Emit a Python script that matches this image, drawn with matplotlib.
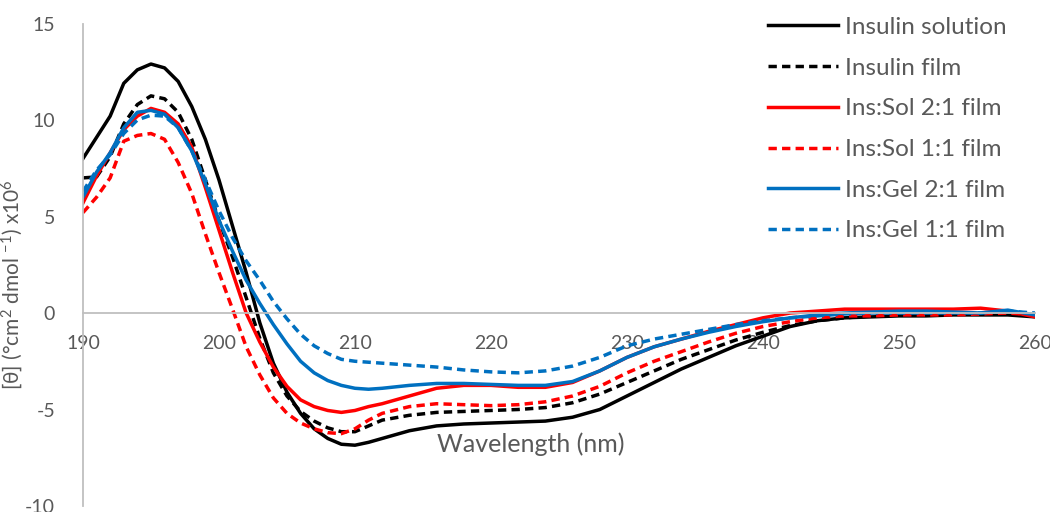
import matplotlib
matplotlib.use("Agg")
import matplotlib.pyplot as plt

plt.rcParams['font.family'] = ['Lato', 'DejaVu Sans']
plt.rcParams['mathtext.default'] = 'regular'
plt.rcParams['axes.unicode_minus'] = False

wavelength = list(range(190, 213)) + list(range(214, 261, 2))

insulinSolution = [8.0, 9.1, 10.2, 11.9, 12.6, 12.9, 12.7, 12.0, 10.7, 9.0, 6.9, 4.5, 2.1, -0.5, -2.6,
                   -4.1, -5.2, -6.0, -6.5, -6.8, -6.85, -6.7, -6.5,
                   -6.1, -5.85, -5.75, -5.7, -5.65, -5.6, -5.4, -5.0, -4.3, -3.6, -2.9, -2.3, -1.7, -1.2,
                   -0.7, -0.4, -0.25, -0.2, -0.15, -0.15, -0.1, -0.1, -0.1, -0.2]
insulinFilm = [7.0, 7.05, 8.1, 9.8, 10.8, 11.25, 11.1, 10.4, 9.0, 6.9, 4.8, 2.9, 0.8, -1.3, -3.1,
               -4.3, -5.1, -5.6, -5.95, -6.15, -6.15, -5.85, -5.55,
               -5.3, -5.15, -5.1, -5.05, -5.0, -4.9, -4.65, -4.2, -3.6, -3.0, -2.4, -1.9, -1.4, -1.0,
               -0.65, -0.4, -0.25, -0.15, -0.1, -0.1, -0.05, -0.05, 0.0, -0.1]
insSol21 = [5.7, 7.1, 8.3, 9.5, 10.2, 10.6, 10.4, 9.8, 8.6, 6.5, 4.3, 2.1, 0.0, -1.5, -2.8,
            -3.8, -4.5, -4.85, -5.05, -5.15, -5.05, -4.85, -4.7,
            -4.3, -3.9, -3.75, -3.75, -3.85, -3.85, -3.6, -3.0, -2.3, -1.75, -1.35, -0.95, -0.6, -0.25,
            0.0, 0.1, 0.2, 0.2, 0.2, 0.2, 0.2, 0.25, 0.1, -0.2]
insSol11 = [5.2, 6.0, 7.0, 8.9, 9.2, 9.3, 9.0, 7.8, 6.2, 4.1, 2.1, 0.2, -1.75, -3.2, -4.4,
            -5.2, -5.7, -6.0, -6.2, -6.25, -6.0, -5.55, -5.2,
            -4.85, -4.7, -4.75, -4.8, -4.75, -4.6, -4.3, -3.8, -3.1, -2.5, -2.0, -1.5, -1.05, -0.7,
            -0.45, -0.25, -0.15, -0.15, -0.1, -0.1, -0.1, -0.05, 0.0, -0.1]
insGel21 = [6.0, 7.3, 8.3, 9.6, 10.4, 10.5, 10.3, 9.6, 8.4, 6.7, 4.8, 3.2, 1.7, 0.5, -0.6,
            -1.6, -2.5, -3.1, -3.5, -3.75, -3.9, -3.95, -3.9,
            -3.75, -3.65, -3.65, -3.7, -3.75, -3.75, -3.55, -3.0, -2.3, -1.75, -1.35, -1.0, -0.7, -0.45,
            -0.25, -0.1, 0.0, 0.05, 0.1, 0.1, 0.05, 0.0, 0.15, -0.1]
insGel11 = [6.3, 7.4, 8.2, 9.3, 10.0, 10.25, 10.2, 9.6, 8.4, 6.9, 5.3, 3.9, 2.7, 1.7, 0.6,
            -0.3, -1.1, -1.7, -2.1, -2.4, -2.5, -2.55, -2.6,
            -2.7, -2.8, -2.95, -3.05, -3.1, -3.0, -2.75, -2.3, -1.7, -1.35, -1.1, -0.85, -0.6, -0.4,
            -0.25, -0.15, -0.05, 0.0, 0.0, 0.0, 0.0, 0.0, 0.1, 0.0]

labels = ["Insulin solution", "Insulin film", "Ins:Sol 2:1 film",
          "Ins:Sol 1:1 film", "Ins:Gel 2:1 film", "Ins:Gel 1:1 film"]
series = [insulinSolution, insulinFilm, insSol21, insSol11, insGel21, insGel11]
colors = ["black", "black", "#FF0000", "#FF0000", "#0070C0", "#0070C0"]
dashed = [False, True, False, True, False, True]

fig = plt.figure(figsize=(10.5, 5.12), dpi=100)
ax = fig.add_axes([0.079, 0.0117, 0.9067, 0.9424])

for vals, lab, col, d in zip(series, labels, colors, dashed):
    line, = ax.plot(wavelength, vals, color=col, lw=2.5, label=lab)
    if d:
        line.set_dashes((2.4, 1.5))

ax.set_xlim(190, 260)
ax.set_ylim(-10, 15)
ax.set_xticks(range(190, 261, 10))
ax.set_yticks(range(-10, 16, 5))

for s in ["top", "right"]:
    ax.spines[s].set_visible(False)
ax.spines["bottom"].set_position(("data", 0))
for s in ["left", "bottom"]:
    ax.spines[s].set_color("#BFBFBF")
    ax.spines[s].set_linewidth(1.3)

ax.tick_params(axis="both", length=0, labelsize=14, labelcolor="#595959")
ax.tick_params(axis="x", pad=16)
ax.tick_params(axis="y", pad=20)

ax.set_xlabel("Wavelength (nm)", fontsize=18, color="#595959")
ax.xaxis.set_label_coords(0.47, 0.152)
ax.set_ylabel("[θ] (°cm$^2$ dmol $^{-1}$) x10$^6$", fontsize=15, color="#595959")
ax.yaxis.set_label_coords(-0.061, 0.458)

leg = fig.legend(loc="upper left", bbox_to_anchor=(0.731, 0.967), frameon=False,
                 fontsize=17.5, handlelength=2.9, handletextpad=0.3, labelspacing=0.81,
                 borderpad=0, borderaxespad=0)
for t in leg.get_texts():
    t.set_color("#595959")

fig.savefig("out.png")
